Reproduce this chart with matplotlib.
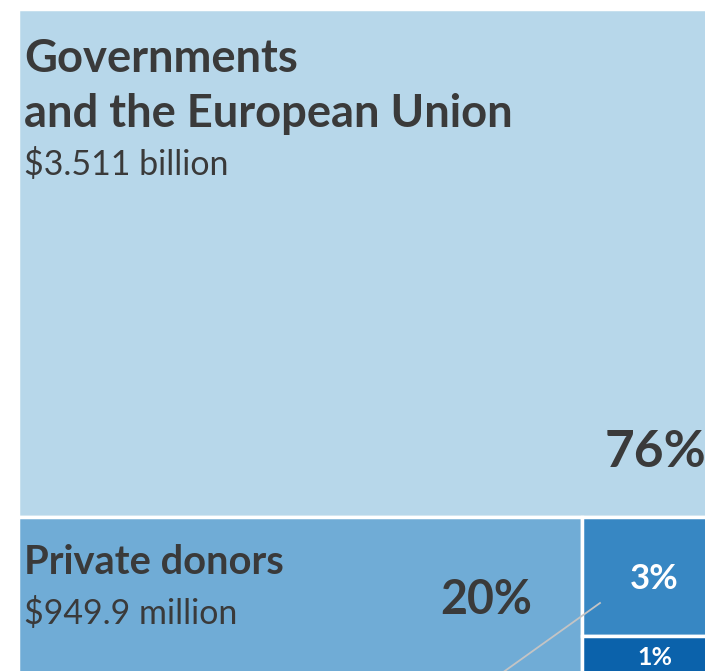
import matplotlib
matplotlib.use("Agg")
import matplotlib.pyplot as plt
from matplotlib.patches import Rectangle

# funding sources (values in million USD, the two small ones are estimated)
sources = ["Governments", "Private donors", "Other", "Other small"]
sources_line2 = ["and the European Union", "", "", ""]
values = [3511.0, 949.9, 167.0, 75.0]
amounts = ["$3.511 billion", "$949.9 million", "", ""]
pct_labels = ["76%", "20%", "3%", "1%"]
colors = ["#b7d7ea", "#70acd6", "#3787c3", "#0b62ab"]

plt.rcParams['font.family'] = ['Lato', 'DejaVu Sans']

fig = plt.figure(figsize=(7.05, 6.71), dpi=100)
ax = fig.add_axes([0, 0, 1, 1])
ax.set_xlim(0, 705)
ax.set_ylim(671, 0)
ax.axis('off')

# treemap box (drawing units, cropped by the figure on the right/bottom)
x0, y0, W, H = 18, 9, 708, 680
total = sum(values)
top_h = H * values[0] / total
rest = sum(values[1:])
priv_w = W * values[1] / rest
col_h = H - top_h
small_h = col_h * values[2] / (values[2] + values[3])

rects = [
    (x0, y0, W, top_h),
    (x0, y0 + top_h, priv_w, col_h),
    (x0 + priv_w, y0 + top_h, W - priv_w, small_h),
    (x0 + priv_w, y0 + top_h + small_h, W - priv_w, col_h - small_h),
]

for (rx, ry, rw, rh), c in zip(rects, colors):
    ax.add_patch(Rectangle((rx, ry), rw, rh, facecolor=c, edgecolor='white', linewidth=2.5))

txt = '#3a3a3a'
# governments
rx, ry, rw, rh = rects[0]
ax.text(rx + 6, ry + 63, sources[0], fontsize=32.7, fontweight='bold', color=txt,
        va='baseline', ha='left')
ax.text(rx + 6, ry + 118, sources_line2[0], fontsize=32.7, fontweight='bold', color=txt,
        va='baseline', ha='left')
ax.text(rx + 6, ry + 166, amounts[0], fontsize=24.5, color=txt, va='baseline', ha='left')
ax.text(rx + rw - 20, ry + rh - 50, pct_labels[0], fontsize=37, fontweight='bold',
        color=txt, va='baseline', ha='right')

# private donors
rx, ry, rw, rh = rects[1]
ax.text(rx + 6, ry + 57, sources[1], fontsize=28.7, fontweight='bold', color=txt,
        va='baseline', ha='left')
ax.text(rx + 6, ry + 107, amounts[1], fontsize=24.5, color=txt, va='baseline', ha='left')
ax.text(rx + rw - 50, ry + 97, pct_labels[1], fontsize=33.5, fontweight='bold',
        color=txt, va='baseline', ha='right')

# small cells
rx, ry, rw, rh = rects[2]
ax.text(rx + 72, ry + 72, pct_labels[2], fontsize=25, fontweight='bold', color='white',
        va='baseline', ha='center')
rx, ry, rw, rh = rects[3]
ax.text(rx + 73, ry + 29, pct_labels[3], fontsize=18, fontweight='bold', color='white',
        va='baseline', ha='center')

# leader line
ax.plot([600, 488], [603, 683], color='#c4c4c4', linewidth=1.3, clip_on=True)

fig.savefig('out.png', dpi=100, facecolor='white')
